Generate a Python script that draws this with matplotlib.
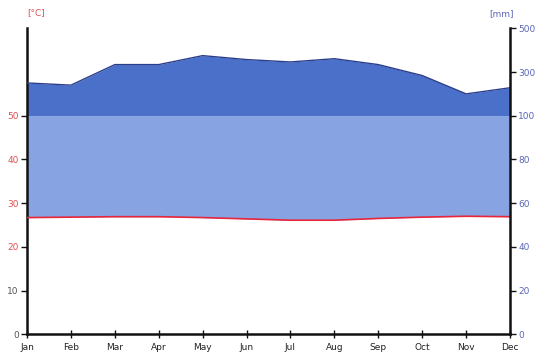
import numpy as np
import matplotlib
matplotlib.use("Agg")
import matplotlib.pyplot as plt

months = ["Jan", "Feb", "Mar", "Apr", "May", "Jun",
          "Jul", "Aug", "Sep", "Oct", "Nov", "Dec"]
temperature_c = [26.7, 26.8, 26.9, 26.9, 26.7, 26.4,
                 26.1, 26.1, 26.5, 26.8, 27.0, 26.9]
precipitation_mm = [250, 240, 334, 334, 375, 357,
                    346, 361, 334, 284, 200, 228]

temp_ticks = [0, 10, 20, 30, 40, 50]
precip_tick_labels = ["0", "20", "40", "60", "80", "100", "300", "500"]


def precip_to_scale(mm):
    """Walter-Lieth scaling: 2 mm per degree up to 100 mm, 20 mm per degree above."""
    mm = np.asarray(mm, dtype=float)
    return np.where(mm <= 100, mm / 2.0, 50 + (mm - 100) / 20.0)


x = np.arange(len(months))
t = np.array(temperature_c)
p = precip_to_scale(precipitation_mm)

fig = plt.figure(figsize=(5.46, 3.58), dpi=100)
ax = fig.add_axes([27 / 546, 1 - 334.3 / 358, (510 - 27) / 546, (334.3 - 28.3) / 358])

light_blue = "#87a3e2"
dark_blue = "#4a70c9"
line_blue = "#2c3f8c"

# humid period: between temperature and precipitation (capped at 100 mm)
ax.fill_between(x, t, np.minimum(p, 50), where=p >= t, interpolate=True,
                color=light_blue, lw=0, zorder=1)
# very wet part above 100 mm
ax.fill_between(x, 50, p, where=p >= 50, interpolate=True,
                color=dark_blue, lw=0, zorder=1)
ax.plot(x, p, color=line_blue, lw=1.0, zorder=3)
ax.plot(x, t, color="#e8263a", lw=1.2, zorder=4)

ax.set_xlim(0, 11)
ax.set_ylim(0, 70)
ax.set_xticks(x)
ax.set_xticklabels(months, fontsize=6.5, color="#222222")
ax.set_yticks(temp_ticks)
ax.set_yticklabels([str(v) for v in temp_ticks], fontsize=6.5)
for lbl, v in zip(ax.get_yticklabels(), temp_ticks):
    lbl.set_color("#e05050" if v >= 20 else "#555555")

ax.spines["top"].set_visible(False)
ax.spines["right"].set_visible(False)
for s in ("left", "bottom"):
    ax.spines[s].set_linewidth(1.8)
    ax.spines[s].set_color("#111111")
ax.tick_params(axis="y", length=4, width=1.0, color="#111111", pad=2)
ax.tick_params(axis="x", direction="inout", length=6, width=1.0,
               color="#111111", pad=3)

ax2 = ax.twinx()
ax2.set_ylim(0, 70)
ax2.set_yticks(np.arange(0, 71, 10))
ax2.set_yticklabels(precip_tick_labels, fontsize=6.5, color="#5a66b8")
for s in ("top", "left", "bottom"):
    ax2.spines[s].set_visible(False)
ax2.spines["right"].set_linewidth(1.8)
ax2.spines["right"].set_color("#111111")
ax2.tick_params(axis="y", length=4, width=1.0, color="#111111", pad=2)

fig.text(36 / 546, 1 - 13 / 358, "[°C]", color="#e05050", fontsize=6.5,
         ha="center", va="center")
fig.text(502 / 546, 1 - 14 / 358, "[mm]", color="#5a66b8", fontsize=6.5,
         ha="center", va="center")

fig.savefig("out.png", dpi=100)
